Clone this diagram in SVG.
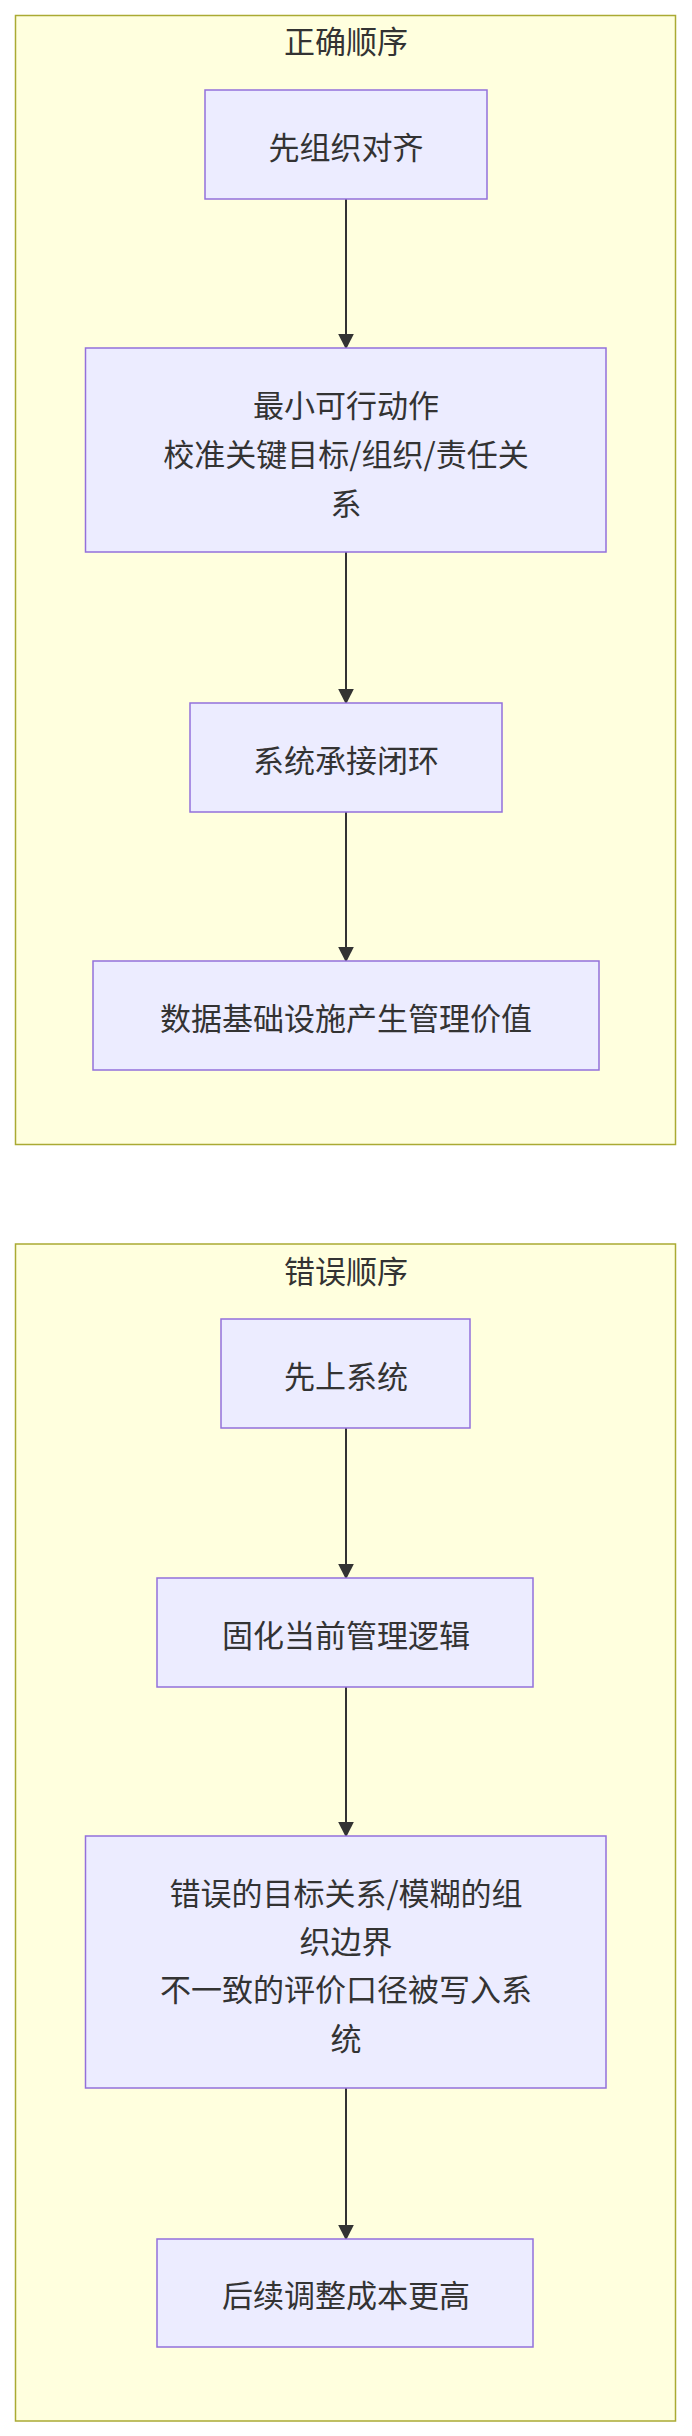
<svg xmlns="http://www.w3.org/2000/svg" width="692" height="2436" viewBox="0 0 692 2436">
<defs>
<style>
.c{fill:#ffffde;stroke:#aaaa33;stroke-width:1.5}
.n{fill:#ececff;stroke:#9370db;stroke-width:1.5}
text{font-family:"Noto Sans CJK SC","Liberation Sans",sans-serif;font-size:31px;fill:#333;text-anchor:middle;dominant-baseline:central}
.e{stroke:#333;stroke-width:2;fill:none;marker-end:url(#a)}
</style>
<marker id="a" viewBox="0 0 10 10" refX="9" refY="5" markerWidth="8" markerHeight="8" orient="auto"><path d="M0,0L10,5L0,10z" fill="#333"/></marker>
</defs>
<g id="cluster1"><rect class="c" x="15.5" y="15.5" width="660" height="1129"/><text x="346" y="39">正确顺序</text></g>
<g id="cluster2"><rect class="c" x="15.5" y="1244" width="660" height="1177"/><text x="346" y="1269">错误顺序</text></g>
<g id="edges">
<path class="e" d="M346,199V348"/>
<path class="e" d="M346,552V703"/>
<path class="e" d="M346,812V961"/>
<path class="e" d="M346,1428V1578"/>
<path class="e" d="M346,1687V1836"/>
<path class="e" d="M346,2088V2239"/>
</g>
<g id="n1"><rect class="n" x="205" y="90" width="282" height="109"/><text x="346" y="145">先组织对齐</text></g>
<g id="n2"><rect class="n" x="85.5" y="348" width="520.5" height="204"/><text x="346" y="403">最小可行动作</text><text x="346" y="452">校准关键目标/组织/责任关</text><text x="346" y="501">系</text></g>
<g id="n3"><rect class="n" x="190" y="703" width="312" height="109"/><text x="346" y="758">系统承接闭环</text></g>
<g id="n4"><rect class="n" x="93" y="961" width="506" height="109"/><text x="346" y="1016">数据基础设施产生管理价值</text></g>
<g id="n5"><rect class="n" x="221" y="1319" width="249" height="109"/><text x="346" y="1374">先上系统</text></g>
<g id="n6"><rect class="n" x="157" y="1578" width="376" height="109"/><text x="346" y="1633">固化当前管理逻辑</text></g>
<g id="n7"><rect class="n" x="85.5" y="1836" width="520.5" height="252"/><text x="346" y="1891">错误的目标关系/模糊的组</text><text x="346" y="1939">织边界</text><text x="346" y="1987">不一致的评价口径被写入系</text><text x="346" y="2036">统</text></g>
<g id="n8"><rect class="n" x="157" y="2239" width="376" height="108"/><text x="346" y="2293">后续调整成本更高</text></g>
</svg>
